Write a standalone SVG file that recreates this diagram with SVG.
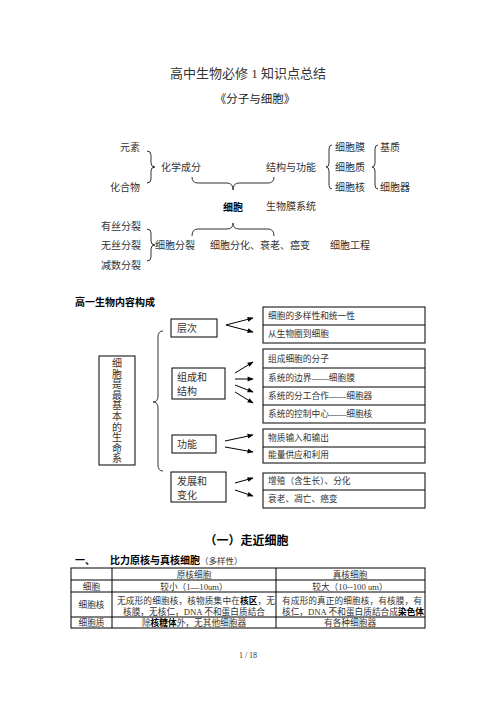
<svg xmlns="http://www.w3.org/2000/svg" width="496" height="702" viewBox="0 0 496 702">
<style>
text{font-family:"Liberation Serif","Noto Sans CJK SC",serif;fill:#333;}
.t10{font-size:10px;}
.t9{font-size:8.7px;}
.b{font-weight:bold;fill:#000;font-family:"Liberation Sans","Noto Sans CJK SC",sans-serif;}
.brace{fill:none;stroke:#333;stroke-width:1;}
.box{fill:#fff;stroke:#000;stroke-width:1;}
.ln{stroke:#000;stroke-width:1;fill:none;}
.arr{stroke:#000;stroke-width:1;marker-end:url(#ah);}
.v{font-size:10px;text-anchor:middle;}
</style>
<defs>
<marker id="ah" viewBox="0 0 10 10" refX="9" refY="5" markerWidth="7" markerHeight="6" orient="auto" markerUnits="userSpaceOnUse"><path d="M0,1 L10,5 L0,9 z" fill="#000"/></marker>
</defs>
<rect width="496" height="702" fill="#fff"/>

<g id="title">
<text x="248" y="78" text-anchor="middle" style="font-size:13px">高中生物必修 1 知识点总结</text>
<text x="255" y="103" text-anchor="middle" style="font-size:11.5px;fill:#222">《分子与细胞》</text>
</g>

<g id="top-diagram">
<text x="120" y="151" class="t10">元素</text>
<text x="110" y="191" class="t10">化合物</text>
<text x="161" y="171" class="t10">化学成分</text>
<text x="266" y="171" class="t10">结构与功能</text>
<text x="335" y="151" class="t10">细胞膜</text>
<text x="335" y="171" class="t10">细胞质</text>
<text x="335" y="191" class="t10">细胞核</text>
<text x="380" y="151" class="t10">基质</text>
<text x="380" y="191" class="t10">细胞器</text>
<text x="223" y="211" class="t10 b">细胞</text>
<text x="266" y="210" class="t10">生物膜系统</text>
<text x="101" y="230" class="t10">有丝分裂</text>
<text x="101" y="249" class="t10">无丝分裂</text>
<text x="101" y="269" class="t10">减数分裂</text>
<text x="155" y="249" class="t10">细胞分裂</text>
<text x="210" y="249" class="t10">细胞分化、衰老、癌变</text>
<text x="330" y="249" class="t10">细胞工程</text>
</g>

<g id="top-braces">
<path class="brace" d="M147,151 Q151,151 151,155 L151,163 Q151,167 155,167 Q151,167 151,171 L151,179 Q151,183 147,183"/>
<path class="brace" d="M192,177 Q192,183 198,183 L227,183 Q233,183 233,190 Q233,183 239,183 L268,183 Q274,183 274,177"/>
<path class="brace" d="M332,145 Q329,145 329,149 L329,163 Q329,167 326,167 Q329,167 329,171 L329,185 Q329,189 332,189"/>
<path class="brace" d="M378,145 Q375,145 375,149 L375,163 Q375,167 372,167 Q375,167 375,171 L375,185 Q375,189 378,189"/>
<path class="brace" d="M147,229 Q151,229 151,233 L151,241 Q151,245 155,245 Q151,245 151,249 L151,257 Q151,261 147,261"/>
<path class="brace" d="M192,236 Q192,229 198,229 L227,229 Q233,229 233,223 Q233,229 239,229 L268,229 Q274,229 274,236"/>
</g>

<text x="75" y="306" class="t10 b">高一生物内容构成</text>

<g id="node-root">
<rect class="box" x="99" y="356" width="36" height="109"/>
<text x="117" y="367" class="v">细</text>
<text x="117" y="377.6" class="v">胞</text>
<text x="117" y="388.2" class="v">是</text>
<text x="117" y="398.8" class="v">最</text>
<text x="117" y="409.4" class="v">基</text>
<text x="117" y="420" class="v">本</text>
<text x="117" y="430.6" class="v">的</text>
<text x="117" y="441.2" class="v">生</text>
<text x="117" y="451.8" class="v">命</text>
<text x="117" y="462.4" class="v">系</text>
</g>
<path class="brace" d="M163,331 Q158,331 158,337 L158,396 Q158,402 153,402 Q158,402 158,408 L158,465 Q158,471 163,471"/>

<g id="node-cengci">
<rect class="box" x="171" y="319" width="46" height="18"/>
<text x="177" y="332" class="t10">层次</text>
</g>
<g id="node-zucheng">
<rect class="box" x="172" y="368" width="53" height="31"/>
<text x="177" y="381" class="t10">组成和</text>
<text x="177" y="395" class="t10">结构</text>
</g>
<g id="node-gongneng">
<rect class="box" x="172" y="435" width="44" height="18"/>
<text x="177" y="448" class="t10">功能</text>
</g>
<g id="node-fazhan">
<rect class="box" x="171" y="472" width="55" height="30"/>
<text x="177" y="485" class="t10">发展和</text>
<text x="177" y="499" class="t10">变化</text>
</g>

<g id="node-box1">
<rect class="box" x="263" y="307" width="162" height="36"/>
<line class="ln" x1="263" y1="325" x2="425" y2="325"/>
<text x="268" y="319.3" class="t9">细胞的多样性和统一性</text>
<text x="268" y="337.3" class="t9">从生物圈到细胞</text>
</g>
<g id="node-box2">
<rect class="box" x="263" y="349" width="162" height="74"/>
<line class="ln" x1="263" y1="368" x2="425" y2="368"/>
<line class="ln" x1="263" y1="387" x2="425" y2="387"/>
<line class="ln" x1="263" y1="405" x2="425" y2="405"/>
<text x="268" y="361.5" class="t9">组成细胞的分子</text>
<text x="268" y="380.8" class="t9">系统的边界——细胞膜</text>
<text x="268" y="399.3" class="t9">系统的分工合作——细胞器</text>
<text x="268" y="417.3" class="t9">系统的控制中心——细胞核</text>
</g>
<g id="node-box3">
<rect class="box" x="263" y="429" width="162" height="34"/>
<line class="ln" x1="263" y1="447" x2="425" y2="447"/>
<text x="268" y="441.3" class="t9">物质输入和输出</text>
<text x="268" y="458.3" class="t9">能量供应和利用</text>
</g>
<g id="node-box4">
<rect class="box" x="263" y="473" width="162" height="35"/>
<line class="ln" x1="263" y1="490" x2="425" y2="490"/>
<text x="268" y="484.3" class="t9">增殖（含生长）、分化</text>
<text x="268" y="502.3" class="t9">衰老、凋亡、癌变</text>
</g>

<g id="connectors">
<line class="arr" x1="226" y1="325" x2="253" y2="318"/>
<line class="arr" x1="226" y1="325" x2="253" y2="332"/>
<line class="arr" x1="235" y1="373" x2="253" y2="362"/>
<line class="arr" x1="235" y1="379" x2="253" y2="379"/>
<line class="arr" x1="235" y1="385" x2="253" y2="392"/>
<line class="arr" x1="235" y1="392" x2="253" y2="403"/>
<line class="arr" x1="225" y1="441" x2="253" y2="435"/>
<line class="arr" x1="225" y1="447" x2="253" y2="452"/>
<line class="arr" x1="235" y1="483" x2="253" y2="478"/>
<line class="arr" x1="235" y1="490" x2="253" y2="496"/>
</g>

<g id="section">
<text x="246.5" y="544.5" text-anchor="middle" class="b" style="font-size:12px">（一）走近细胞</text>
<text x="75" y="564" class="b" style="font-size:10px">一、</text>
<text x="110" y="564" class="b" style="font-size:10px">比力原核与真核细胞</text>
<text x="200" y="563.5" style="font-size:8.5px">（多样性）</text>
</g>

<g id="table">
<rect class="ln" x="71" y="568" width="354" height="60"/>
<line class="ln" x1="71" y1="580" x2="425" y2="580"/>
<line class="ln" x1="71" y1="592" x2="425" y2="592"/>
<line class="ln" x1="71" y1="617" x2="425" y2="617"/>
<line class="ln" x1="112" y1="568" x2="112" y2="628"/>
<line class="ln" x1="276" y1="568" x2="276" y2="628"/>
<text x="194" y="577.5" text-anchor="middle" class="t9">原核细胞</text>
<text x="350" y="577.5" text-anchor="middle" class="t9">真核细胞</text>
<text x="91.5" y="589.5" text-anchor="middle" class="t9">细胞</text>
<text x="194" y="589.5" text-anchor="middle" class="t9">较小（1—10um）</text>
<text x="350" y="589.5" text-anchor="middle" class="t9">较大（10--100 um）</text>
<text x="91.5" y="607.5" text-anchor="middle" class="t9">细胞核</text>
<text x="117" y="603.5" class="t9" textLength="158" lengthAdjust="spacing">无成形的细胞核，核物质集中在<tspan style="font-weight:bold;fill:#000">核区</tspan>，无</text>
<text x="123" y="615" class="t9" textLength="142" lengthAdjust="spacing">核膜，无核仁，DNA 不和蛋白质结合</text>
<text x="282" y="603.5" class="t9" textLength="140" lengthAdjust="spacing">有成形的真正的细胞核，有核膜，有</text>
<text x="282" y="615" class="t9" textLength="142" lengthAdjust="spacing">核仁，DNA 不和蛋白质结合成<tspan style="font-weight:bold;fill:#000">染色体</tspan></text>
<text x="91.5" y="625.5" text-anchor="middle" class="t9">细胞质</text>
<text x="194" y="625.5" text-anchor="middle" class="t9">除<tspan style="font-weight:bold;fill:#000">核糖体</tspan>外，无其他细胞器</text>
<text x="350" y="625.5" text-anchor="middle" class="t9">有各种细胞器</text>
</g>

<text x="248" y="658" text-anchor="middle" style="font-size:8px">1 / 18</text>
</svg>
